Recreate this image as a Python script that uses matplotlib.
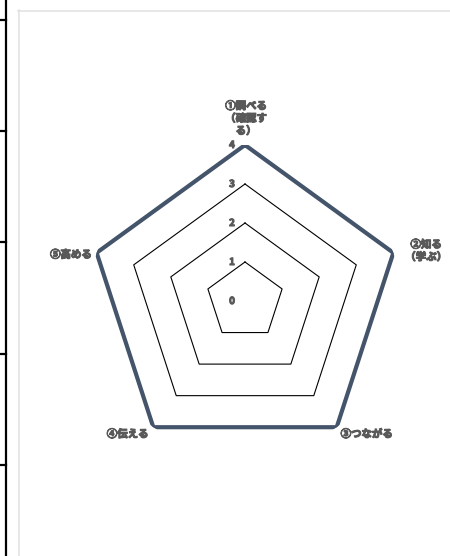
import numpy as np
import matplotlib
matplotlib.use('Agg')
import matplotlib.pyplot as plt
from matplotlib.lines import Line2D
import matplotlib.patheffects as pe

plt.rcParams['font.family'] = ['Noto Sans CJK JP', 'DejaVu Sans']

categories = ['①調べる\n（確認す\nる）', '②知る\n（学ぶ）', '③つながる', '④伝える', '⑤高める']
values = [4, 4, 4, 4, 4]
grid_levels = [1, 2, 3, 4]
tick_labels = ['0', '1', '2', '3', '4']

text_color = '#595959'
line_color = '#44546A'
bold = [pe.withStroke(linewidth=0.8, foreground=text_color)]

fig = plt.figure(figsize=(4.5, 5.56), dpi=100)
W, H = 450, 556

# left ruler and card border (page decoration)
fig.add_artist(Line2D([6 / W, 6 / W], [0, 1], color='black', lw=1.6))
for ty in [20, 131, 242, 354, 465]:
    fig.add_artist(Line2D([0, 6 / W], [1 - ty / H, 1 - ty / H], color='black', lw=1.6))
fig.add_artist(Line2D([18.5 / W, 18.5 / W], [0, 1 - 10 / H], color='#e3e3e3', lw=1.2))
fig.add_artist(Line2D([18 / W, 1], [1 - 10.5 / H, 1 - 10.5 / H], color='#e3e3e3', lw=1.2))

# radar axes: center (245, 301), radius 156 px
cx, cy, R = 245, 301, 156
ax = fig.add_axes([(cx - R) / W, (H - cy - R) / H, 2 * R / W, 2 * R / H], projection='polar')
ax.set_theta_zero_location('N')
ax.set_theta_direction(-1)
ax.set_ylim(0, 4)
ax.set_facecolor('none')
ax.spines['polar'].set_visible(False)
ax.grid(False)
ax.set_xticks([])
ax.set_yticks([])

n = len(categories)
angles = np.linspace(0, 2 * np.pi, n, endpoint=False)
closed = np.append(angles, angles[0])

for lv in grid_levels:
    ax.plot(closed, [lv] * (n + 1), color='black', lw=0.8, zorder=1)

ax.plot(closed, values + values[:1], color=line_color, lw=3, zorder=3,
        solid_joinstyle='miter')

# radial tick labels
for i, t in enumerate(tick_labels):
    ax.annotate(t, xy=(0, i), xytext=(-13, 0), textcoords='offset pixels',
                ha='center', va='center', fontsize=7, fontweight='bold',
                color=text_color, path_effects=bold)

# category labels
offsets = [(1, 9, 'center', 'bottom'), (12, 2, 'left', 'center'), (4, -2, 'left', 'top'),
           (-5, -2, 'right', 'top'), (-5, -2, 'right', 'center')]
for ang, lab, (dx, dy, ha, va) in zip(angles, categories, offsets):
    ax.annotate(lab, xy=(ang, 4), xytext=(dx, dy), textcoords='offset pixels',
                ha=ha, va=va, multialignment='center', fontsize=7.5,
                fontweight='bold', color=text_color, linespacing=1.3,
                path_effects=bold)

fig.savefig('out.png', dpi=100)
